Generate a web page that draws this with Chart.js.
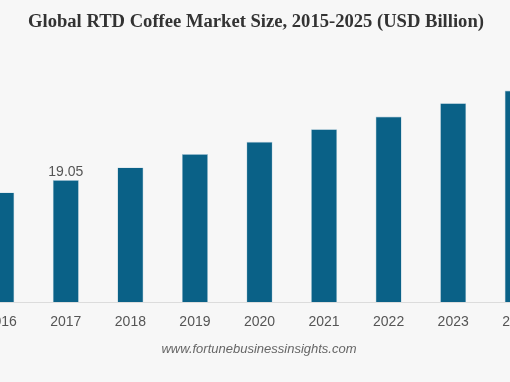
<!DOCTYPE html>
<html>
<head>
<meta charset="utf-8">
<script src="https://cdn.jsdelivr.net/npm/chart.js@4"></script>
<style>
  html, body { margin: 0; padding: 0; width: 510px; height: 382px; overflow: hidden; background: #f7f7f7; }
  #wrap { position: absolute; left: -31px; top: 0; width: 581px; height: 382px; }
  #title { position: absolute; left: 0; top: 10px; width: 512px; text-align: center;
           font: bold 18.6px "Liberation Serif", "Times New Roman", serif; color: #333; }
  #footer { position: absolute; left: 0; top: 341px; width: 518px; text-align: center;
            font: italic 13px "Liberation Sans", Arial, sans-serif; color: #666; }
</style>
</head>
<body>
<div id="wrap"><canvas id="c"></canvas></div>
<div id="title">Global RTD Coffee Market Size, 2015-2025 (USD Billion)</div>
<div id="footer">www.fortunebusinessinsights.com</div>
<script>
const years = ['2016', '2017', '2018', '2019', '2020', '2021', '2022', '2023', '2024'];
const marketSize = [17.12, 19.05, 21.02, 23.11, 25.03, 27.01, 28.98, 31.07, 33.04];
const valueLabels = [null, '19.05', null, null, null, null, null, null, null];

const labelPlugin = {
  id: 'valueLabels',
  afterDatasetsDraw(chart) {
    const ctx = chart.ctx;
    const meta = chart.getDatasetMeta(0);
    ctx.save();
    ctx.font = '14px "Liberation Sans", Arial, sans-serif';
    ctx.fillStyle = '#555';
    ctx.textAlign = 'center';
    ctx.textBaseline = 'alphabetic';
    meta.data.forEach((bar, i) => {
      if (valueLabels[i]) ctx.fillText(valueLabels[i], bar.x, bar.y - 4);
    });
    ctx.restore();
  }
};

new Chart(document.getElementById('c'), {
  type: 'bar',
  data: {
    labels: years,
    datasets: [{
      data: marketSize,
      backgroundColor: '#0a6187',
      borderColor: 'rgba(120,170,195,0.6)',
      borderWidth: 0.6,
      categoryPercentage: 1,
      barPercentage: 0.403
    }]
  },
  options: {
    responsive: true,
    maintainAspectRatio: false,
    animation: false,
    layout: { padding: { top: 46, left: 0, right: 0, bottom: 0 } },
    plugins: { legend: { display: false }, tooltip: { enabled: false }, title: { display: false } },
    scales: {
      x: {
        grid: { display: false, drawTicks: false },
        border: { display: true, color: '#dcdcdc', width: 1 },
        ticks: { color: '#555', font: { family: '"Liberation Sans", Arial, sans-serif', size: 14 }, padding: 12, maxRotation: 0 },
        afterFit(scale) { scale.height = 80; }
      },
      y: { display: false, min: 0, max: 40 }
    }
  },
  plugins: [labelPlugin]
});
</script>
</body>
</html>
